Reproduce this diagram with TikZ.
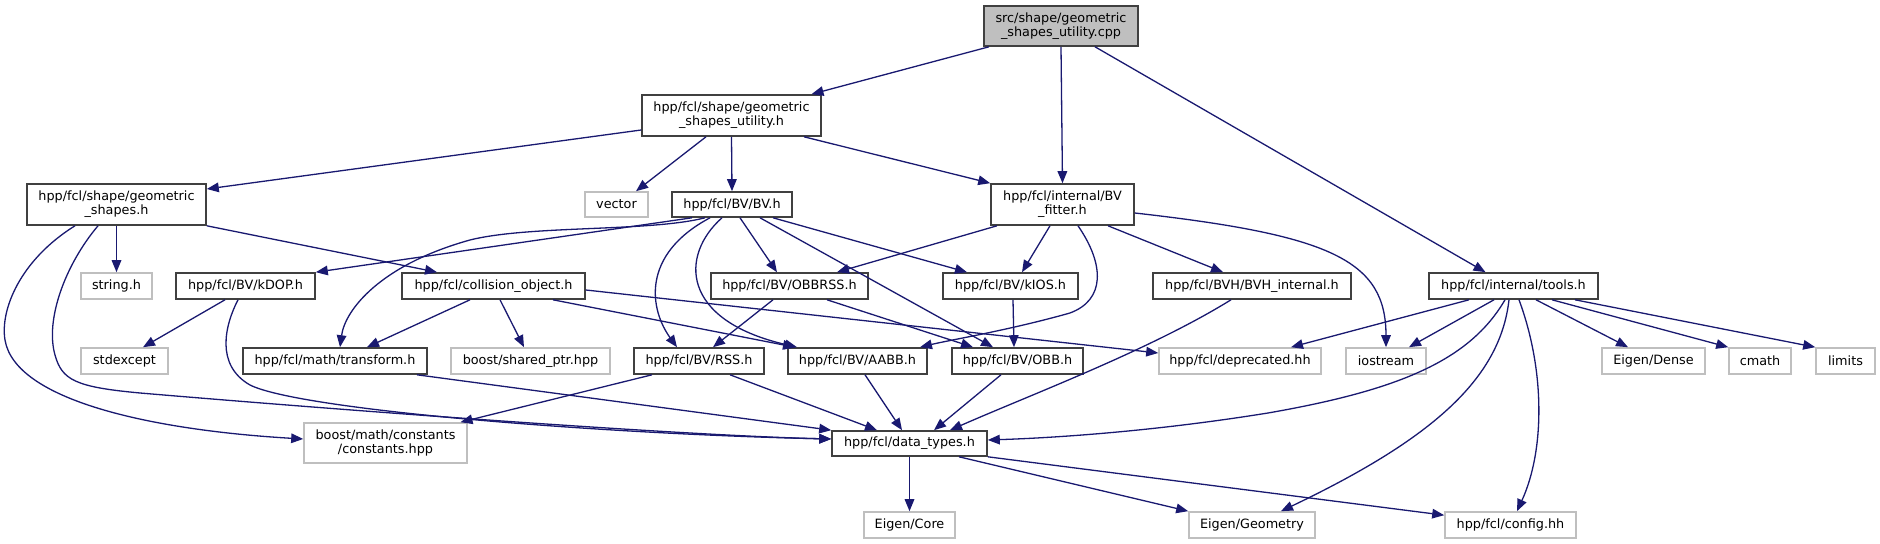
\documentclass[tikz,border=0pt]{standalone}
\usepackage{fontspec}
\newfontfamily\dvs{DejaVu Sans}
\usetikzlibrary{arrows.meta,calc}
\definecolor{grey75}{RGB}{191,191,191}
\definecolor{edgec}{RGB}{25,25,112}
\definecolor{bord}{RGB}{64,64,64}
\begin{document}
\begin{tikzpicture}[x=0.5pt,y=-0.5pt,
  nd/.style={draw=bord, line width=0.8pt, rectangle, inner sep=0pt, align=center,
    font=\dvs\fontsize{6.4pt}{7pt}\selectfont, minimum height=13pt},
  ext/.style={nd, draw=grey75},
  root/.style={nd, fill=grey75},
  e/.style={draw=edgec, line width=0.65pt, -{Triangle[length=6pt,width=4.8pt]}}]
\useasboundingbox (0,0) rectangle (1880,544);
% nodes
\node[root, minimum width=77pt, minimum height=20pt] (top) at (1061,26) {src/shape/geometric\\\_shapes\_utility.cpp};
\node[nd, minimum width=89.5pt, minimum height=20.5pt] (gsu) at (731.5,115.5) {hpp/fcl/shape/geometric\\\_shapes\_utility.h};
\node[nd, minimum width=89.5pt, minimum height=20.5pt] (gs) at (116.5,204.5) {hpp/fcl/shape/geometric\\\_shapes.h};
\node[ext, minimum width=31.5pt, minimum height=12.5pt] (vector) at (616.5,204.5) {vector};
\node[nd, minimum width=60pt, minimum height=12.5pt] (BV) at (732,204.5) {hpp/fcl/BV/BV.h};
\node[nd, minimum width=71.5pt, minimum height=20.5pt] (fitter) at (1062.5,204.5) {hpp/fcl/internal/BV\\\_fitter.h};
\node[ext, minimum width=35.5pt] (string) at (116.5,286) {string.h};
\node[nd, minimum width=69.5pt] (kDOP) at (245.5,286) {hpp/fcl/BV/kDOP.h};
\node[nd, minimum width=91.5pt] (colobj) at (493.5,286) {hpp/fcl/collision\_object.h};
\node[nd, minimum width=78.5pt] (OBBRSS) at (789.5,286) {hpp/fcl/BV/OBBRSS.h};
\node[nd, minimum width=67.5pt] (kIOS) at (1010.5,286) {hpp/fcl/BV/kIOS.h};
\node[nd, minimum width=99pt] (BVHint) at (1252,286) {hpp/fcl/BVH/BVH\_internal.h};
\node[nd, minimum width=84.5pt] (tools) at (1513.5,286) {hpp/fcl/internal/tools.h};
\node[ext, minimum width=43.5pt] (stdexcept) at (124.5,361) {stdexcept};
\node[nd, minimum width=92pt] (transform) at (335,361) {hpp/fcl/math/transform.h};
\node[ext, minimum width=79.5pt] (sharedptr) at (530.5,361) {boost/shared\_ptr.hpp};
\node[nd, minimum width=65pt] (RSS) at (699,361) {hpp/fcl/BV/RSS.h};
\node[nd, minimum width=69.5pt] (AABB) at (857.5,361) {hpp/fcl/BV/AABB.h};
\node[nd, minimum width=65.5pt] (OBB) at (1017.5,361) {hpp/fcl/BV/OBB.h};
\node[ext, minimum width=81pt] (deprecated) at (1240,361) {hpp/fcl/deprecated.hh};
\node[ext, minimum width=40pt] (iostream) at (1386,361) {iostream};
\node[ext, minimum width=51.5pt] (EigenDense) at (1653.5,361) {Eigen/Dense};
\node[ext, minimum width=31pt] (cmath) at (1760,361) {cmath};
\node[ext, minimum width=29.5pt] (limits) at (1845.5,361) {limits};
\node[ext, minimum width=81.5pt, minimum height=20pt] (constants) at (385.5,443) {boost/math/constants\\/constants.hpp};
\node[nd, minimum width=77.5pt, minimum height=12.5pt] (datatypes) at (909.5,443.5) {hpp/fcl/data\_types.h};
\node[ext, minimum width=45.5pt] (EigenCore) at (909.5,525) {Eigen/Core};
\node[ext, minimum width=63pt] (EigenGeo) at (1252,525) {Eigen/Geometry};
\node[ext, minimum width=65.5pt] (config) at (1510.5,525) {hpp/fcl/config.hh};
% edges
\draw[e] ($(top.south)+(-72,0)$) -- ($(gsu.north)+(80,0)$);
\draw[e] (top.south) -- (fitter.north);
\draw[e] ($(top.south)+(34,0)$) -- ($(tools.north)+(-28,0)$);
\draw[e] ($(gsu.west)+(0,14.5)$) -- ($(gs.east)+(0,-15.5)$);
\draw[e] ($(gsu.south)+(-25.5,0)$) -- ($(vector.north)+(19.5,0)$);
\draw[e] (gsu.south) -- (BV.north);
\draw[e] ($(gsu.south)+(72.5,0)$) -- (fitter.north west);
\draw[e] (gs.south) -- (string.north);
\draw[e] (gs.south east) -- ($(colobj.north)+(-56.5,0)$);
\draw[e] ($(gs.south)+(-41.5,0)$) .. controls (20,260) and (0,310) .. (5,340) .. controls (15,400) and (150,430) .. ($(constants.west)+(0,-4)$);
\draw[e] ($(gs.south)+(-18.5,0)$) .. controls (65,265) and (45,320) .. (55,355) .. controls (62,380) and (75,387) .. (140,393) .. controls (400,415) and (700,436) .. ($(datatypes.west)+(0,-4.5)$);
\draw[e] ($(kDOP.south)+(-7.5,0)$) .. controls (225,325) and (215,365) .. (250,385) .. controls (300,410) and (600,434) .. ($(datatypes.west)+(0,-4.5)$);
\draw[e] ($(transform.south)+(82,0)$) -- (datatypes.north west);
\draw[e] ($(RSS.south)+(-47,0)$) -- ($(constants.north)+(75,0)$);
\draw[e] ($(RSS.south)+(31,0)$) -- ($(datatypes.north)+(-32.5,0)$);
\draw[e] ($(AABB.south)+(7.5,0)$) -- ($(datatypes.north)+(-7.5,0)$);
\draw[e] ($(OBB.south)+(-16.5,0)$) -- ($(datatypes.north)+(24.5,0)$);
\draw[e] ($(BVHint.south)+(-21,0)$) .. controls (1150,350) and (1030,395) .. ($(datatypes.north)+(40.5,0)$);
\draw[e] ($(tools.south)+(-8.5,0)$) .. controls (1470,360) and (1400,390) .. (1268,413) .. controls (1150,432) and (1050,438) .. ($(datatypes.east)+(0,-3.5)$);
\draw[e] ($(tools.south)+(-4.5,0)$) .. controls (1500,380) and (1430,440) .. ($(EigenGeo.north)+(29,0)$);
\draw[e] ($(tools.south)+(5.5,0)$) .. controls (1545,370) and (1545,450) .. ($(config.north)+(6.5,0)$);
\draw[e] ($(tools.south)+(-44.5,0)$) -- ($(deprecated.north)+(51,0)$);
\draw[e] ($(tools.south)+(-19.5,0)$) -- ($(iostream.north)+(23,0)$);
\draw[e] ($(tools.south)+(22.5,0)$) -- ($(EigenDense.north)+(-25.5,0)$);
\draw[e] ($(tools.south)+(38.5,0)$) -- (cmath.north west);
\draw[e] ($(tools.south)+(61.5,0)$) -- (limits.north west);
\draw[e] (datatypes.south) -- (EigenCore.north);
\draw[e] ($(datatypes.south)+(49.5,0)$) -- (EigenGeo.north west);
\draw[e] (datatypes.south east) -- ($(config.north west)+(0,4)$);
\draw[e] ($(BV.south)+(-40,0)$) -- (kDOP.north east);
\draw[e] ($(BV.south)+(-27,0)$) .. controls (650,232) and (530,225) .. (470,240) .. controls (380,265) and (345,310) .. ($(transform.north)+(5,0)$);
\draw[e] ($(BV.south)+(-22,0)$) .. controls (640,255) and (650,310) .. ($(RSS.north)+(-22,0)$);
\draw[e] ($(BV.south)+(-10,0)$) .. controls (680,255) and (680,320) .. ($(AABB.north)+(-60.5,0)$);
\draw[e] ($(BV.south)+(8,0)$) -- ($(OBBRSS.north)+(-12.5,0)$);
\draw[e] ($(BV.south)+(28,0)$) -- ($(OBB.north)+(-24.5,0)$);
\draw[e] ($(BV.south)+(41,0)$) -- ($(kIOS.north)+(-43.5,0)$);
\draw[e] ($(fitter.south)+(-65.5,0)$) -- ($(OBBRSS.north)+(47.5,0)$);
\draw[e] ($(fitter.south)+(-12.5,0)$) -- ($(kIOS.north)+(11.5,0)$);
\draw[e] ($(fitter.south)+(15.5,0)$) .. controls (1105,265) and (1105,300) .. (1070,313) .. controls (1010,330) and (950,340) .. ($(AABB.north)+(62.5,0)$);
\draw[e] ($(fitter.south)+(45.5,0)$) -- ($(BVHint.north)+(-29,0)$);
\draw[e] ($(fitter.east)+(0,8.5)$) .. controls (1330,235) and (1386,260) .. (iostream.north);
\draw[e] ($(kDOP.south)+(-20.5,0)$) -- ($(stdexcept.north)+(18.5,0)$);
\draw[e] ($(colobj.south)+(-23.5,0)$) -- ($(transform.north)+(32,0)$);
\draw[e] ($(colobj.south)+(6.5,0)$) -- ($(sharedptr.north)+(-6.5,0)$);
\draw[e] ($(colobj.south)+(59.5,0)$) -- ($(AABB.north)+(-62.5,0)$);
\draw[e] ($(colobj.east)+(0,4)$) -- ($(deprecated.west)+(0,-8)$);
\draw[e] ($(OBBRSS.south)+(-16.5,0)$) -- ($(RSS.north)+(14,0)$);
\draw[e] ($(OBBRSS.south)+(37.5,0)$) -- ($(OBB.north)+(-44.5,0)$);
\draw[e] ($(kIOS.south)+(2.5,0)$) -- ($(OBB.north)+(-3.5,0)$);
\end{tikzpicture}
\end{document}
